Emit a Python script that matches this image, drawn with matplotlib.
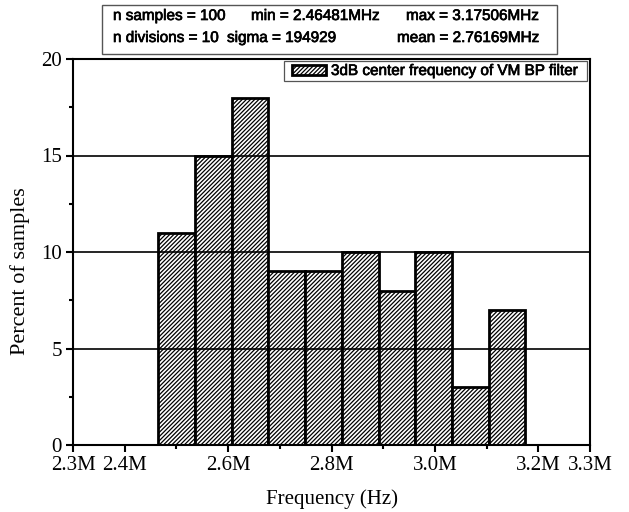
import matplotlib
matplotlib.use("Agg")
import matplotlib.pyplot as plt
import matplotlib.patheffects as pe
from matplotlib.patches import Rectangle
from matplotlib.ticker import FixedLocator

# Data
bin_min_hz = 2.46481e6
bin_max_hz = 3.17506e6
n_divisions = 10
percents = [11, 15, 18, 9, 9, 10, 8, 10, 3, 7]
xtick_vals = [2.3e6, 2.4e6, 2.6e6, 2.8e6, 3.0e6, 3.2e6, 3.3e6]
xtick_labels = ["2.3M", "2.4M", "2.6M", "2.8M", "3.0M", "3.2M", "3.3M"]
xminor_vals = [2.5e6, 2.7e6, 2.9e6, 3.1e6]
ytick_vals = [0, 5, 10, 15, 20]
yminor_vals = [2.5, 7.5, 12.5, 17.5]
legend_label = "3dB center frequency of VM BP filter"
stats_line1 = ["n samples = 100", "min = 2.46481MHz", "max = 3.17506MHz"]
stats_line2 = ["n divisions = 10", "sigma = 194929", "mean = 2.76169MHz"]

plt.rcParams["hatch.linewidth"] = 0.9
serif = ["Liberation Serif", "DejaVu Serif"]
sans = ["Liberation Sans", "DejaVu Sans"]
heavy = [pe.withStroke(linewidth=0.5, foreground="black")]

W, H = 629, 512
fig = plt.figure(figsize=(W / 100, H / 100), dpi=100)
ax = fig.add_axes([73 / W, 1 - 445 / H, (590 - 73) / W, (445 - 59) / H])

width = (bin_max_hz - bin_min_hz) / n_divisions
lefts = [bin_min_hz + i * width for i in range(n_divisions)]
ax.bar(lefts, percents, width=width, align="edge", facecolor="white",
       edgecolor="black", linewidth=2, hatch="/" * 8, zorder=1,
       label=legend_label)

ax.set_xlim(2.3e6, 3.3e6)
ax.set_ylim(0, 20)
ax.xaxis.set_major_locator(FixedLocator(xtick_vals))
ax.set_xticklabels(xtick_labels)
ax.xaxis.set_minor_locator(FixedLocator(xminor_vals))
ax.yaxis.set_major_locator(FixedLocator(ytick_vals))
ax.yaxis.set_minor_locator(FixedLocator(yminor_vals))

for y in [5, 10, 15]:
    ax.axhline(y, color="black", linewidth=1.2, zorder=3)

ax.tick_params(which="major", direction="out", length=5, width=1.5,
               labelsize=15, pad=3)
ax.tick_params(which="minor", direction="out", length=3, width=1.5)
for lab in ax.get_xticklabels() + ax.get_yticklabels():
    lab.set_family(serif)
for s in ax.spines.values():
    s.set_linewidth(1.5)
    s.set_zorder(4)

ax.set_xlabel("Frequency (Hz)", fontsize=15, family=serif, labelpad=10)
ax.set_ylabel("Percent of samples", fontsize=16, family=serif)
ax.yaxis.set_label_coords(-0.083, 0.45)

# legend frame and legend
ax.add_patch(Rectangle((284 / W, 1 - 81 / H), 303 / W, 20 / H,
                       transform=fig.transFigure, facecolor="white",
                       edgecolor="#555555", linewidth=0.9, zorder=5,
                       clip_on=False))
leg = ax.legend(loc="center left", bbox_to_anchor=(292 / W, 1 - 71 / H),
                bbox_transform=fig.transFigure, borderaxespad=0,
                borderpad=0, frameon=False,
                prop={"family": sans, "size": 11},
                handlelength=2.2, handleheight=0.65, handletextpad=0.35)
leg.set_zorder(6)
for t in leg.get_texts():
    t.set_path_effects(heavy)

fig.patches.append(Rectangle((102 / W, 1 - 54 / H), 455 / W, 49 / H,
                             transform=fig.transFigure, facecolor="white",
                             edgecolor="#555555", linewidth=1.0))
xs1 = [113, 251, 406]
xs2 = [113, 227, 397]
for x, t in zip(xs1, stats_line1):
    fig.text(x / W, 1 - 16 / H, t, ha="left", va="center", family=sans,
             size=11, path_effects=heavy)
for x, t in zip(xs2, stats_line2):
    fig.text(x / W, 1 - 38 / H, t, ha="left", va="center", family=sans,
             size=11, path_effects=heavy)

fig.savefig("out.png", dpi=100)
